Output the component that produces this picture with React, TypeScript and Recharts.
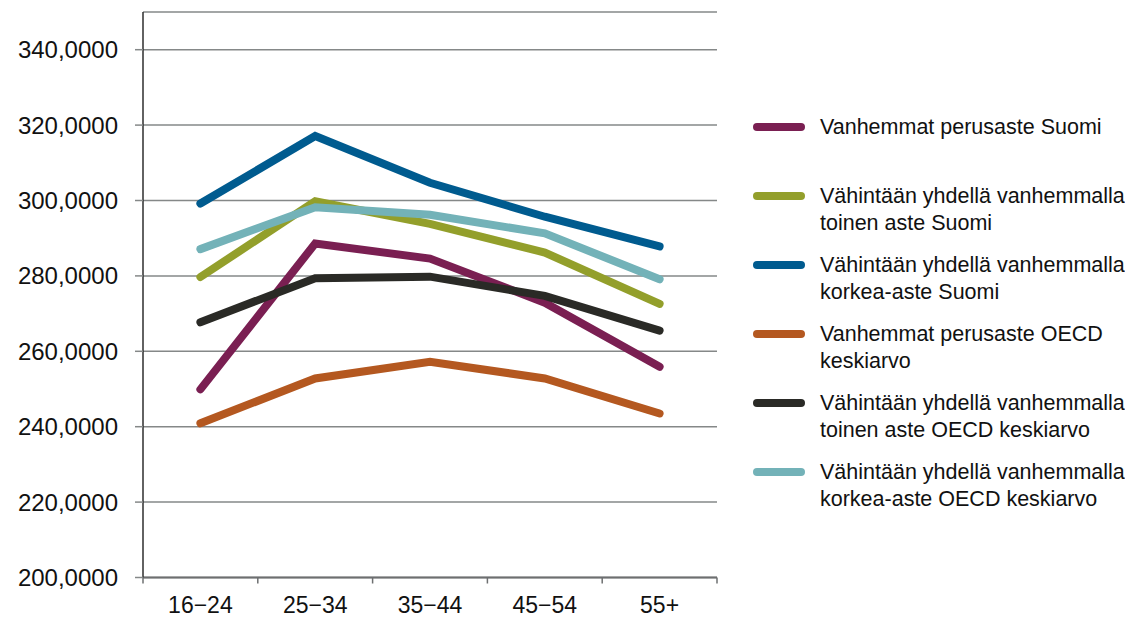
import React from 'react';
import { LineChart, Line, XAxis, YAxis, CartesianGrid } from 'recharts';

const categories = ['16−24', '25−34', '35−44', '45−54', '55+'];

const perusasteSuomi = [249.9, 288.6, 284.6, 272.9, 255.9];
const toinenSuomi = [279.7, 299.8, 293.8, 286.2, 272.6];
const korkeaSuomi = [299.2, 317.1, 304.7, 295.7, 287.8];
const perusasteOECD = [240.9, 252.8, 257.2, 252.8, 243.5];
const toinenOECD = [267.7, 279.4, 279.8, 274.7, 265.5];
const korkeaOECD = [287.1, 298.2, 296.2, 291.3, 279.1];

const yTicks = [200, 220, 240, 260, 280, 300, 320, 340];

const seriesKeys = ['perusasteSuomi', 'toinenSuomi', 'korkeaSuomi', 'perusasteOECD', 'toinenOECD', 'korkeaOECD'];
const seriesColors = ['#7a1f52', '#939f2b', '#005b8f', '#b45820', '#2a2a26', '#73b2b8'];
const legendLabels = [
  ['Vanhemmat perusaste Suomi'],
  ['Vähintään yhdellä vanhemmalla', 'toinen aste Suomi'],
  ['Vähintään yhdellä vanhemmalla', 'korkea-aste Suomi'],
  ['Vanhemmat perusaste OECD', 'keskiarvo'],
  ['Vähintään yhdellä vanhemmalla', 'toinen aste OECD keskiarvo'],
  ['Vähintään yhdellä vanhemmalla', 'korkea-aste OECD keskiarvo'],
];

const seriesValues = [perusasteSuomi, toinenSuomi, korkeaSuomi, perusasteOECD, toinenOECD, korkeaOECD];

const data = categories.map((cat, i) => {
  const row: Record<string, any> = { cat };
  seriesKeys.forEach((k, s) => {
    row[k] = seriesValues[s][i];
  });
  return row;
});

const FONT = '"Liberation Sans", Arial, Helvetica, sans-serif';
const PLOT_LEFT = 143;
const PLOT_RIGHT = 717;
const BAND = (PLOT_RIGHT - PLOT_LEFT) / categories.length;

function XTick(props: any) {
  const { x, y, payload, index } = props;
  return (
    <g>
      <line x1={x - BAND / 2} x2={x - BAND / 2} y1={y} y2={y + 6} stroke="#6d6f70" strokeWidth={1.5} />
      {index === categories.length - 1 && (
        <line x1={x + BAND / 2} x2={x + BAND / 2} y1={y} y2={y + 6} stroke="#6d6f70" strokeWidth={1.5} />
      )}
      <text x={x} y={y} dy={35.5} textAnchor="middle" fill="#111" fontSize={23} fontFamily={FONT}>
        {payload.value}
      </text>
    </g>
  );
}

const fmt = (v: number) => v.toFixed(4).replace('.', ',');

export default function App() {
  return (
    <div style={{ position: 'absolute', left: 0, top: 0, width: 1125, height: 617, background: '#fff' }}>
      <LineChart
        width={1125}
        height={617}
        data={data}
        margin={{ top: 12, right: 408, bottom: 0, left: 0 }}
      >
        <CartesianGrid vertical={false} stroke="#858888" strokeWidth={1.5} />
        <XAxis
          dataKey="cat"
          scale="band"
          interval={0}
          height={39.5}
          tickSize={0}
          tickMargin={0}
          tickLine={false}
          axisLine={{ stroke: '#6d6f70', strokeWidth: 2 }}
          tick={<XTick />}
        />
        <XAxis
          xAxisId="top"
          dataKey="cat"
          orientation="top"
          scale="band"
          height={0}
          tick={false}
          tickLine={false}
          axisLine={{ stroke: '#2e2e2e', strokeWidth: 1.5 }}
        />
        <YAxis
          domain={[200, 350]}
          ticks={yTicks}
          interval={0}
          width={143}
          tickSize={8}
          tickMargin={17}
          tickFormatter={fmt}
          tickLine={{ stroke: '#858888', strokeWidth: 1.5 }}
          axisLine={{ stroke: '#2e2e2e', strokeWidth: 1.5 }}
          tick={{ fill: '#111', fontSize: 24, fontFamily: FONT }}
        />
        <YAxis
          yAxisId="right"
          orientation="right"
          domain={[200, 350]}
          width={0}
          tick={false}
          tickLine={false}
          axisLine={{ stroke: '#4a4a4a', strokeWidth: 2 }}
        />
        {seriesKeys.map((k, s) => (
          <Line
            key={k}
            type="linear"
            dataKey={k}
            stroke={seriesColors[s]}
            strokeWidth={8}
            strokeLinecap="round"
            dot={false}
            activeDot={false}
            isAnimationActive={false}
          />
        ))}
      </LineChart>
      <div style={{ position: 'absolute', left: 753, top: 113.5, fontFamily: FONT }}>
        {legendLabels.map((lines, s) => (
          <div key={s} style={{ display: 'flex', alignItems: 'flex-start', height: 69 }}>
            <div
              style={{
                width: 52,
                height: 8,
                borderRadius: 4,
                background: seriesColors[s],
                marginTop: 9.5,
                flex: 'none',
              }}
            />
            <div style={{ marginLeft: 15, fontSize: 21.5, lineHeight: '27px', color: '#111', whiteSpace: 'nowrap' }}>
              {lines.map((l, j) => (
                <div key={j}>{l}</div>
              ))}
            </div>
          </div>
        ))}
      </div>
    </div>
  );
}
